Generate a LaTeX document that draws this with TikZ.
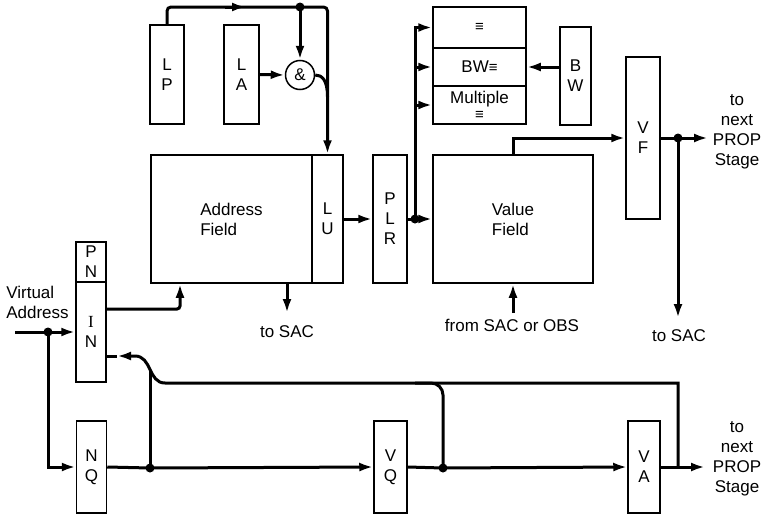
\documentclass[tikz,border=0pt]{standalone}
\usepackage{fontspec}
\setmainfont{Liberation Sans}
\newfontfamily\serifI{Liberation Serif}
\usetikzlibrary{arrows.meta}
\newcommand\myeq{{\fontsize{15}{15}\selectfont ≡}}
\begin{document}
\begin{tikzpicture}[x=1pt,y=-1pt,
  font=\fontsize{17}{20}\selectfont,
  box/.style={draw,line width=1.5pt,inner sep=0pt,align=center},
  conn/.style={line width=3pt},
  arr/.style={conn,-{Latex[length=14pt,width=9pt]}},
  jdot/.style={circle,fill,inner sep=0pt,minimum size=9pt},
  lbl/.style={inner sep=0pt,align=center}]
\useasboundingbox (0,0) rectangle (767,514);

% boxes
\node[box,minimum width=34pt,minimum height=99pt] (LP) at (167,74.5) {L\\P};
\node[box,minimum width=35pt,minimum height=99pt] (LA) at (241.5,74.5) {L\\A};
\node[draw,circle,line width=1.5pt,minimum size=29pt,inner sep=0pt] (amp) at (300,75) {\&};
\node[box,align=left,minimum width=161pt,minimum height=128pt] (AF) at (231.5,219) {Address\\Field};
\node[box,minimum width=31pt,minimum height=128pt] (LU) at (327.5,219) {L\\U};
\node[box,minimum width=34pt,minimum height=128pt] (PLR) at (390,219) {P\\L\\R};
\node[box,minimum width=93pt,minimum height=41pt] (EQ) at (479.5,27.5) {\myeq};
\node[box,minimum width=93pt,minimum height=38pt] (BWEQ) at (479.5,67) {BW\myeq};
\node[box,minimum width=93pt,minimum height=38pt] (MU) at (479.5,105) {Multiple\\[-4pt]\myeq};
\node[box,minimum width=31pt,minimum height=98pt] (BW) at (575.5,76) {B\\W};
\node[box,align=left,minimum width=160pt,minimum height=128pt] (VFd) at (513,219) {Value\\Field};
\node[box,minimum width=34pt,minimum height=162pt] (VF) at (643,138) {V\\F};
\node[box,minimum width=30pt,minimum height=40pt] (PN) at (91,262) {P\\N};
\node[box,minimum width=30pt,minimum height=100pt] (IN) at (91,332) {{\serifI I}\\N};
\node[box,minimum width=30pt,minimum height=92pt] (NQ) at (91.5,467) {N\\Q};
\node[box,minimum width=33pt,minimum height=92pt] (VQ) at (390.5,467) {V\\Q};
\node[box,minimum width=32pt,minimum height=92pt] (VA) at (644,467) {V\\A};

% labels
\node[lbl] (nx1) at (737,132) {to\\next\\PROP\\Stage};
\node[lbl] (nx2) at (737,459) {to\\next\\PROP\\Stage};
\node[lbl,align=left] (virt) at (37.5,302) {Virtual\\Address};
\node[lbl] (sac1) at (287,332) {to SAC};
\node[lbl] (sac2) at (679,336) {to SAC};
\node[lbl] (from) at (512,325) {from SAC or OBS};

% junction dots
\node[jdot] (dTop) at (300,7) {};
\node[jdot] (dPLR) at (415,219) {};
\node[jdot] (dVF) at (678,138) {};
\node[jdot] (dVA) at (48,332) {};
\node[jdot] (dNQ) at (150,468) {};
\node[jdot] (dVQ) at (443,468) {};

% helper coordinates
\coordinate (tMidA) at (225,7);
\coordinate (tMid) at (246,7);
\coordinate (tR) at (LU.north |- dTop);
\coordinate (nxA) at (708,138);
\coordinate (sac2a) at (678,318);
\coordinate (afs) at (287,313);
\coordinate (fr) at (513,313);
\coordinate (vin) at (15,332);
\coordinate (inA) at (180,309);
\coordinate (nxB) at (705,467);
\coordinate (fbR) at (678,383);
\coordinate (fbL) at (165,383);
\coordinate (fbU) at (135,356);
\coordinate (fbA) at (117,356);
\coordinate (fbM) at (150,369.5);
\coordinate (vqU) at (443,383);
\coordinate (vqL) at (415,383);

% connectors
\draw[arr,rounded corners=4pt] (LP.north) |- (tR) -- (LU.north);
\draw[arr] (tMidA) -- (tMid);
\draw[arr] (dTop.center) -- (amp.north);
\draw[arr] (LA.east) -- (amp.west);
\draw[conn] (amp.east) .. controls (322,75) and (327.5,80) .. (327.5,97);
\draw[arr] (LU.east) -- (PLR.west);
\draw[conn] (PLR.east) -- (dPLR.center);
\draw[arr] (dPLR.center) -- (VFd.west);
\draw[arr] (dPLR.center) |- (EQ.west);
\draw[arr] (dPLR |- BWEQ.west) -- (BWEQ.west);
\draw[arr] (dPLR |- MU.west) -- (MU.west);
\draw[arr] (BW.west |- BWEQ.east) -- (BWEQ.east);
\draw[arr] (VFd.north) |- (VF.west);
\draw[conn] (VF.east) -- (dVF.center);
\draw[arr] (dVF.center) -- (nxA);
\draw[arr] (dVF.center) -- (sac2a);
\draw[arr] (AF.south -| afs) -- (afs);
\draw[arr] (fr) -- (fr |- VFd.south);
\draw[conn] (vin) -- (dVA.center);
\draw[arr] (dVA.center) -- (IN.west);
\draw[arr] (dVA.center) |- (NQ.west);
\draw[arr,rounded corners=3pt] (IN.east |- inA) -- (inA) -- (inA |- AF.south);
\draw[conn] (NQ.east) -- (dNQ.center);
\draw[arr] (dNQ.center) -- (VQ.west);
\draw[conn] (VQ.east) -- (dVQ.center);
\draw[arr] (dVQ.center) -- (VA.west);
\draw[arr] (VA.east) -- (nxB);
\draw[arr] (VA.east -| fbR) -- (fbR) -- (fbL) .. controls (148,383) and (152,356) .. (fbU) -- (fbA);
\draw[conn] (fbA) -- (IN.east |- fbA);
\draw[conn] (dNQ.center) -- (fbM);
\draw[conn,rounded corners=12pt] (dVQ.center) -- (vqU) -- (vqL);
\end{tikzpicture}
\end{document}
